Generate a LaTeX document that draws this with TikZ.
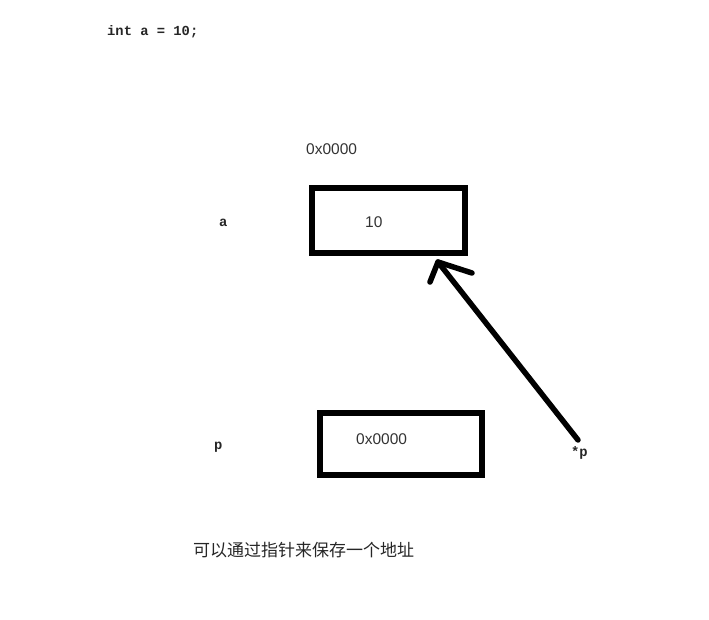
\documentclass[tikz,border=0pt]{standalone}
\usepackage{fontspec}
\setmainfont{Liberation Sans}
\newfontfamily\codefont{Liberation Mono}
\newfontfamily\cjk{Noto Sans CJK SC}
\begin{document}
\begin{tikzpicture}[x=1pt,y=-1pt,
  cell/.style={draw=black,line width=6pt},
  code/.style={font=\codefont\fontsize{13.8}{16}\selectfont\bfseries,inner sep=0pt,text=black!85},
  addr/.style={font=\fontsize{15.5}{18}\selectfont,inner sep=0pt,text=black!80},
  ptr/.style={line width=5.5pt,line cap=round,line join=round}]
\useasboundingbox (0,0) rectangle (709,619);
\node[code,anchor=west] (decl) at (107,32) {int a = 10;};
\node[addr,anchor=west] (addra) at (306,149) {0x0000};
\draw[cell] (312,188) rectangle (465,253);
\node[code,anchor=west] (la) at (219,223) {a};
\node[addr,anchor=west] (va) at (365,222) {10};
\draw[cell] (320,413) rectangle (482,475);
\node[code,anchor=west] (lp) at (214,447) {p};
\node[addr,anchor=west] (vp) at (356,439) {0x0000};
\node[code,anchor=west] (sp) at (571,453) {*p};
\coordinate (tail) at (578,440);
\coordinate (tip) at (438,262);
\draw[ptr] (tail) -- (tip);
\draw[ptr] (430,282) -- (tip) -- (472,273);
\node[font=\cjk\fontsize{17}{20}\selectfont,anchor=west,inner sep=0pt,text=black!85] (note) at (193,550) {可以通过指针来保存一个地址};
\end{tikzpicture}
\end{document}
